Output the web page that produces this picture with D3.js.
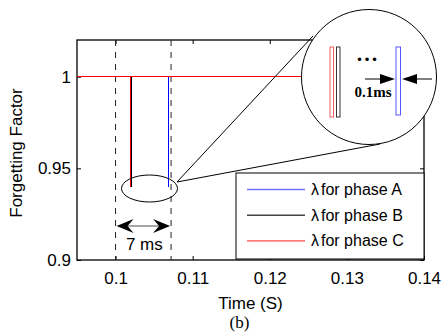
<!DOCTYPE html>
<html>
<head>
<meta charset="utf-8">
<script src="https://cdn.jsdelivr.net/npm/d3@7"></script>
<style>
  body { margin: 0; background: #fff; }
  text { font-family: "Liberation Sans", Arial, sans-serif; }
</style>
</head>
<body>
<div id="chart"></div>
<script>
// chart values
const phases = ['A', 'B', 'C'];
const dropTimes = [0.1069, 0.10207, 0.1019];  // time of the one-sample drop of lambda
const dropValues = [0.94, 0.94, 0.94];
const steadyValue = 1;
const timeSpan = [0.095, 0.14];
const valueSpan = [0.9, 1.02];
const xTicks = [0.1, 0.11, 0.12, 0.13, 0.14];
const yTicks = [0.9, 0.95, 1];
const markerTimes = [0.1, 0.1072];             // dashed lines, 7 ms apart

const phaseColors = ['#0000ff', '#000000', '#ff0000'];
const legendColors = ['#6f6fff', '#444444', '#ff4a4a'];

const width = 443;
const height = 333;
const margin = {top: 40, right: 19, bottom: 73, left: 77};

var svg = d3.select('#chart')
    .append('svg')
    .attr('width', width)
    .attr('height', height);

var x = d3.scaleLinear()
    .domain(timeSpan)
    .range([margin.left, width - margin.right]);

var y = d3.scaleLinear()
    .domain(valueSpan)
    .range([height - margin.bottom, margin.top]);

const x0 = x.range()[0], x1 = x.range()[1];
const y0 = y.range()[0], y1 = y.range()[1];

// axes with inward ticks (matlab style)
svg.append('g')
    .attr('transform', `translate(0,${y0})`)
    .call(d3.axisBottom(x).tickValues(xTicks).tickSizeInner(-4).tickSizeOuter(0).tickPadding(12)
        .tickFormat(d3.format('')))
    .call(g => g.select('.domain').remove())
    .call(g => g.selectAll('text').attr('font-size', 17).attr('font-family', '"Liberation Sans", Arial, sans-serif'));

svg.append('g')
    .attr('transform', `translate(0,${y1})`)
    .call(d3.axisTop(x).tickValues(xTicks).tickSizeInner(-4).tickSizeOuter(0).tickFormat(''))
    .call(g => g.select('.domain').remove());

svg.append('g')
    .attr('transform', `translate(${x0},0)`)
    .call(d3.axisLeft(y).tickValues(yTicks).tickSizeInner(-4).tickSizeOuter(0).tickPadding(6)
        .tickFormat(d3.format('')))
    .call(g => g.select('.domain').remove())
    .call(g => g.selectAll('text').attr('font-size', 17).attr('font-family', '"Liberation Sans", Arial, sans-serif'));

svg.append('g')
    .attr('transform', `translate(${x1},0)`)
    .call(d3.axisRight(y).tickValues(yTicks).tickSizeInner(-4).tickSizeOuter(0).tickFormat(''))
    .call(g => g.select('.domain').remove());

svg.append('rect')
    .attr('x', x0)
    .attr('y', y1)
    .attr('width', x1 - x0)
    .attr('height', y0 - y1)
    .attr('fill', 'none')
    .attr('stroke', '#000')
    .attr('stroke-width', 1.3);

// dashed markers
svg.selectAll('.marker')
    .data(markerTimes)
    .enter()
    .append('line')
    .attr('class', 'marker')
    .attr('x1', d => x(d))
    .attr('x2', d => x(d))
    .attr('y1', y1)
    .attr('y2', y0)
    .attr('stroke', '#222')
    .attr('stroke-dasharray', '6,6');

// lambda traces
var line = d3.line()
    .x(d => x(d[0]))
    .y(d => y(d[1]));

var traces = phases.map(function (p, i) {
    let t = dropTimes[i];
    return [[timeSpan[0], steadyValue], [t, steadyValue], [t, dropValues[i]], [t, steadyValue], [timeSpan[1], steadyValue]];
});

svg.selectAll('.trace')
    .data(traces)
    .enter()
    .append('path')
    .attr('class', 'trace')
    .attr('d', line)
    .attr('fill', 'none')
    .attr('stroke', (d, i) => phaseColors[i])
    .attr('stroke-width', 1)
    .attr('shape-rendering', 'crispEdges');

// ellipse around the drops
var ex = 149.5, ey = 188.5;
svg.append('ellipse')
    .attr('cx', ex)
    .attr('cy', ey)
    .attr('rx', 28)
    .attr('ry', 13.5)
    .attr('fill', 'none')
    .attr('stroke', '#000');

// zoom lines and magnifier circle
var cx = 369, cy = 77, r = 67.5;
svg.append('line')
    .attr('x1', 177).attr('y1', 182)
    .attr('x2', 313).attr('y2', 36)
    .attr('stroke', '#000');
svg.append('line')
    .attr('x1', 177).attr('y1', 182)
    .attr('x2', 380).attr('y2', 144)
    .attr('stroke', '#000');

svg.append('circle')
    .attr('cx', cx)
    .attr('cy', cy)
    .attr('r', r)
    .attr('fill', '#fff')
    .attr('stroke', '#000');

// inset: magnified drops drawn as hollow bars
var inset = svg.append('g');
var insetBars = [
    {x: 330, w: 3.5, color: '#f06060', h: 70},
    {x: 336.5, w: 3.5, color: '#333', h: 70},
    {x: 396, w: 4.5, color: '#5555ff', h: 68}
];
inset.selectAll('rect')
    .data(insetBars)
    .enter()
    .append('rect')
    .attr('x', d => d.x)
    .attr('y', 47)
    .attr('width', d => d.w)
    .attr('height', d => d.h)
    .attr('fill', 'none')
    .attr('stroke', d => d.color);

inset.append('text')
    .attr('x', 368)
    .attr('y', 61)
    .attr('text-anchor', 'middle')
    .attr('font-size', 22)
    .attr('font-weight', 'bold')
    .attr('letter-spacing', 2)
    .style('font-family', '"Liberation Serif", "Times New Roman", serif')
    .text('...');

inset.append('text')
    .attr('x', 373)
    .attr('y', 97)
    .attr('text-anchor', 'middle')
    .attr('font-size', 15)
    .attr('font-weight', 'bold')
    .style('font-family', '"Liberation Serif", "Times New Roman", serif')
    .text('0.1ms');

// small arrows pointing at the blue bar
inset.append('line').attr('x1', 365).attr('y1', 79).attr('x2', 382).attr('y2', 79).attr('stroke', '#000');
inset.append('path').attr('d', 'M395,79 L380,74 L380,84 Z').attr('fill', '#000');
inset.append('line').attr('x1', 416).attr('y1', 79).attr('x2', 432).attr('y2', 79).attr('stroke', '#000');
inset.append('path').attr('d', 'M402,79 L417,74 L417,84 Z').attr('fill', '#000');

// 7 ms double arrow
var ay = 226;
var ax0 = x(markerTimes[0]), ax1 = x(markerTimes[1]);
svg.append('line')
    .attr('x1', ax0 + 8).attr('x2', ax1 - 8)
    .attr('y1', ay).attr('y2', ay)
    .attr('stroke', '#888')
    .attr('stroke-width', 1.5);
svg.append('path')
    .attr('d', `M${ax0 + 1},${ay} L${ax0 + 18},${ay - 7} L${ax0 + 12},${ay} L${ax0 + 18},${ay + 7} Z`)
    .attr('fill', '#000');
svg.append('path')
    .attr('d', `M${ax1 - 1},${ay} L${ax1 - 18},${ay - 7} L${ax1 - 12},${ay} L${ax1 - 18},${ay + 7} Z`)
    .attr('fill', '#000');
svg.append('text')
    .attr('x', (ax0 + ax1) / 2 + 1)
    .attr('y', 250)
    .attr('text-anchor', 'middle')
    .attr('font-size', 17)
    .text('7 ms');

// legend
var legend = svg.append('g');
legend.append('rect')
    .attr('x', 236)
    .attr('y', 173)
    .attr('width', x1 - 236)
    .attr('height', 86)
    .attr('fill', '#fff')
    .attr('stroke', '#000');

var legendRows = legend.selectAll('.row')
    .data(phases)
    .enter()
    .append('g')
    .attr('class', 'row')
    .attr('transform', (d, i) => `translate(0,${189.5 + i * 25.7})`);

legendRows.append('line')
    .attr('x1', 247)
    .attr('x2', 305)
    .attr('stroke', (d, i) => legendColors[i])
    .attr('stroke-width', 1.4);

var legendText = legendRows.append('text')
    .attr('x', 311)
    .attr('y', 5.5)
    .attr('font-size', 16);
legendText.append('tspan').text('\u03bb');
legendText.append('tspan').attr('dx', 2).text(d => `for phase ${d}`);

// axis titles
svg.append('text')
    .attr('x', (x0 + x1) / 2)
    .attr('y', 309)
    .attr('text-anchor', 'middle')
    .attr('font-size', 17)
    .text('Time (S)');

svg.append('text')
    .attr('transform', 'translate(22,153) rotate(-90)')
    .attr('text-anchor', 'middle')
    .attr('font-size', 17)
    .text('Forgetting Factor');

svg.append('text')
    .attr('x', 239.5)
    .attr('y', 328)
    .attr('text-anchor', 'middle')
    .attr('font-size', 17)
    .style('font-family', '"Liberation Serif", "Times New Roman", serif')
    .text('(b)');
</script>
</body>
</html>
